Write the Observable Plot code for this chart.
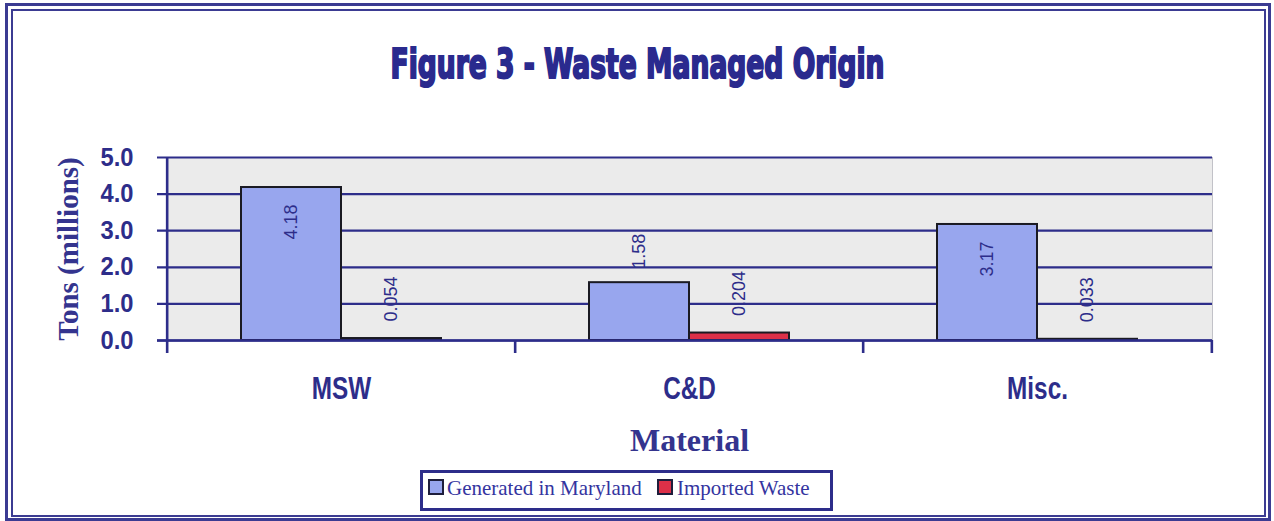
<!DOCTYPE html>
<html>
<head>
<meta charset="utf-8">
<script src="https://cdn.jsdelivr.net/npm/d3@7"></script>
<script src="https://cdn.jsdelivr.net/npm/@observablehq/plot@0.6"></script>
<style>
  html, body { margin: 0; padding: 0; background: #fff; }
  #page { position: relative; width: 1274px; height: 521px; overflow: hidden; background: #fff; }
  .frame-outer { position: absolute; left: 5px; top: 3px; width: 1266px; height: 518px; border: 3px solid #3b3b92; box-sizing: border-box; }
  .frame-inner { position: absolute; left: 11px; top: 9px; width: 1255px; height: 508px; border: 2px solid #3b3b92; box-sizing: border-box; }
  #title { position: absolute; left: 0; top: 44px; width: 1274px; text-align: center; line-height: 1; }
  #title span { display: inline-block; font-family: "DejaVu Sans Condensed", "Liberation Sans", sans-serif; font-weight: bold; font-size: 40px; color: #2a2a8e; -webkit-text-stroke: 2px #2a2a8e; transform-origin: center; white-space: nowrap; }
  #chart { position: absolute; left: 0; top: 120px; }
  #legend { position: absolute; left: 420px; top: 470px; width: 413px; height: 41px; border: 3px solid #2d2d8a; box-sizing: border-box; background: #fff; }
  .sw { position: absolute; top: 6px; width: 16px; height: 16px; border: 2px solid #1e1e3c; box-sizing: border-box; }
  .lt { position: absolute; top: 3px; font-family: "Liberation Serif", "Times New Roman", serif; font-size: 21px; color: #3434a0; white-space: nowrap; line-height: 24px; }
</style>
</head>
<body>
<div id="page">
  <div class="frame-outer"></div>
  <div class="frame-inner"></div>
  <div id="title"><span id="titleText"></span></div>
  <div id="chart"></div>
  <div id="legend"></div>
</div>
<script>
// ---- data ----
const categories = ["MSW", "C&D", "Misc."];
const generated = [4.18, 1.58, 3.17];
const imported = [0.054, 0.204, 0.033];
const seriesNames = ["Generated in Maryland", "Imported Waste"];
const yTicks = [0, 1, 2, 3, 4, 5];
const titleText = "Figure 3 - Waste Managed Origin";
const xLabel = "Material";
const yLabel = "Tons (millions)";

// ---- styles ----
const navy = "#2d2d8a";
const colors = ["#98a6ee", "#dc3048"];
const serif = '"Liberation Serif", "Times New Roman", serif';
const sans = '"Liberation Sans", Arial, sans-serif';

const genData = categories.map((c, i) => ({cat: c, value: generated[i], series: seriesNames[0]}));
const impData = categories.map((c, i) => ({cat: c, value: imported[i], series: seriesNames[1]}));
const fmtTick = d => d.toFixed(1);

const W = 1274, H = 340, mL = 166, mR = 62, mT = 37, mB = 120;
const half = (W - mL - mR) / categories.length / 2;
const frameH = H - mT - mB;

const chart = Plot.plot({
  width: W, height: H,
  marginLeft: mL, marginRight: mR, marginTop: mT, marginBottom: mB,
  x: {domain: categories, padding: 0, axis: null},
  y: {domain: [0, 5], axis: null},
  color: {domain: seriesNames, range: colors},
  style: {background: "transparent", overflow: "visible"},
  marks: [
    Plot.frame({fill: "#ebebeb", stroke: "#c2c2c8"}),
    Plot.ruleY(yTicks, {stroke: navy, strokeWidth: 2.2, insetLeft: -9}),
    Plot.barY(genData, {x: "cat", y: "value", fill: "series", stroke: "#1a1a22", strokeWidth: 2, insetLeft: 74, insetRight: 174}),
    Plot.barY(impData, {x: "cat", y: "value", fill: "series", stroke: "#1a1a22", strokeWidth: 2, insetLeft: 174, insetRight: 74}),
    Plot.ruleY([0], {stroke: navy, strokeWidth: 2.6, insetLeft: -9}),
    Plot.ruleX([categories[0]], {x: d => d, dx: -half, stroke: navy, strokeWidth: 2.6, insetBottom: -13}),
    Plot.ruleX(categories.slice(1), {x: d => d, dx: -half, stroke: navy, strokeWidth: 2.6, insetTop: frameH, insetBottom: -13}),
    Plot.ruleX([categories[categories.length - 1]], {x: d => d, dx: half, stroke: navy, strokeWidth: 2.6, insetTop: frameH, insetBottom: -13}),
    // y tick labels
    Plot.text(yTicks, {y: d => d, frameAnchor: "left", dx: -33, textAnchor: "end", lineAnchor: "middle", text: fmtTick,
      fontFamily: sans, fontWeight: "bold", fontSize: 25.5, fill: navy}),
    // x category labels
    Plot.text(categories, {x: d => d, frameAnchor: "bottom", dy: 48, textAnchor: "middle", lineAnchor: "middle", text: d => d,
      fontFamily: sans, fontWeight: "bold", fontSize: 32, fill: navy}),
    // axis titles
    Plot.text([xLabel], {frameAnchor: "bottom", dy: 100, textAnchor: "middle", lineAnchor: "middle", text: d => d,
      fontFamily: serif, fontWeight: "bold", fontSize: 32, fill: "#34348e"}),
    Plot.text([yLabel], {frameAnchor: "left", dx: -98, rotate: -90, textAnchor: "middle", lineAnchor: "middle", text: d => d,
      fontFamily: serif, fontWeight: "bold", fontSize: 29, fill: "#34348e"}),
    // value labels
    Plot.text(genData.filter(d => d.value >= 2), {x: "cat", y: "value", text: d => String(d.value), rotate: -90,
      textAnchor: "end", lineAnchor: "middle", dx: -50, dy: 17, fontFamily: sans, fontSize: 18, fill: navy}),
    Plot.text(genData.filter(d => d.value < 2), {x: "cat", y: "value", text: d => String(d.value), rotate: -90,
      textAnchor: "start", lineAnchor: "middle", dx: -50, dy: -14, fontFamily: sans, fontSize: 18, fill: navy}),
    Plot.text(impData, {x: "cat", y: "value", text: d => String(d.value), rotate: -90,
      textAnchor: "start", lineAnchor: "middle", dx: 50, dy: -17, fontFamily: sans, fontSize: 18, fill: navy})
  ]
});
document.getElementById("chart").appendChild(chart);

// narrow the axis tick labels (the reference uses a condensed face)
function squeeze(labels, sx) {
  const set = new Set(labels);
  d3.select(chart).selectAll("text").each(function () {
    if (!set.has(this.textContent)) return;
    const tr = this.getAttribute("transform") || "";
    this.setAttribute("transform", tr + ` scale(${sx},1)`);
  });
}
squeeze(yTicks.map(fmtTick), 0.93);
squeeze(categories, 0.76);

// title, stretched to the reference width
const t = document.getElementById("titleText");
t.textContent = titleText;
const tw = t.getBoundingClientRect().width;
t.style.transform = `scaleX(${494 / tw})`;

// legend
const legend = document.getElementById("legend");
const swX = [5, 234], txX = [24, 254];
seriesNames.forEach((name, i) => {
  const sw = document.createElement("div");
  sw.className = "sw";
  sw.style.left = swX[i] + "px";
  sw.style.background = colors[i];
  legend.appendChild(sw);
  const tx = document.createElement("div");
  tx.className = "lt";
  tx.style.left = txX[i] + "px";
  tx.textContent = name;
  legend.appendChild(tx);
});
</script>
</body>
</html>
